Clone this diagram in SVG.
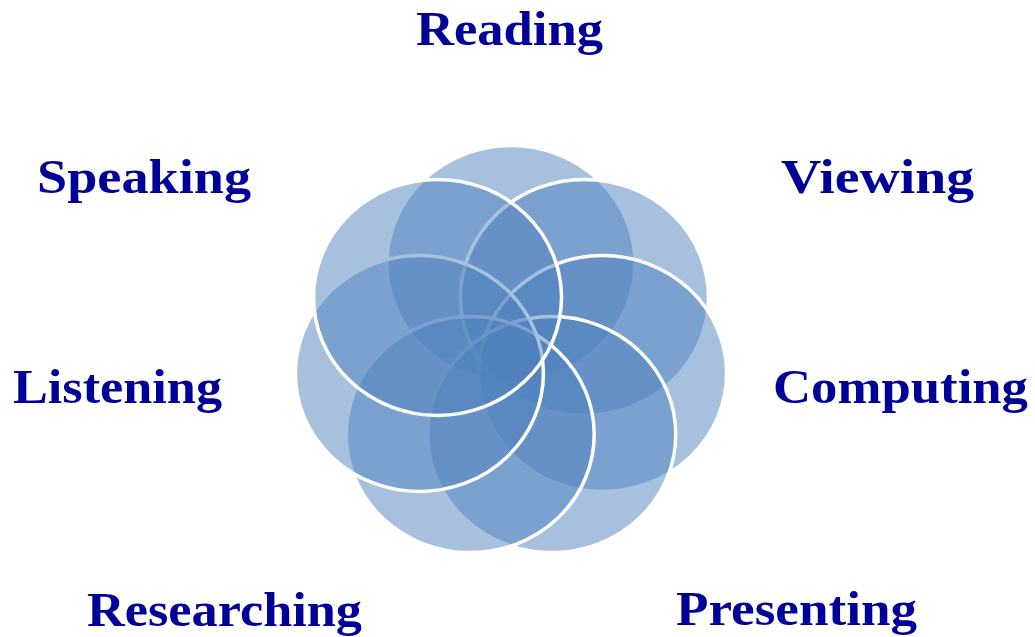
<svg xmlns="http://www.w3.org/2000/svg" width="1035" height="637" viewBox="0 0 1035 637">
<style>
.c{fill:#4F81BD;fill-opacity:0.5;stroke:#FFFFFF;stroke-width:3.5}
.t{font-family:"Liberation Serif","Times New Roman",serif;font-weight:bold;font-size:48px;fill:#000099}
</style>
<rect width="1035" height="637" fill="#FFFFFF"/>
<g id="reading"><ellipse class="c" cx="511" cy="263.5" rx="124" ry="118"/><text class="t" x="416" y="45" textLength="187" lengthAdjust="spacingAndGlyphs">Reading</text></g>
<g id="viewing"><ellipse class="c" cx="584.5" cy="297.4" rx="124" ry="118"/><text class="t" x="781" y="193" textLength="193" lengthAdjust="spacingAndGlyphs">Viewing</text></g>
<g id="computing"><ellipse class="c" cx="602.6" cy="373.5" rx="124" ry="118"/><text class="t" x="773" y="403" textLength="255" lengthAdjust="spacingAndGlyphs">Computing</text></g>
<g id="presenting"><ellipse class="c" cx="551.8" cy="434.6" rx="124" ry="118"/><text class="t" x="676" y="625" textLength="241" lengthAdjust="spacingAndGlyphs">Presenting</text></g>
<g id="researching"><ellipse class="c" cx="470.2" cy="434.6" rx="124" ry="118"/><text class="t" x="87" y="626" textLength="275" lengthAdjust="spacingAndGlyphs">Researching</text></g>
<g id="listening"><ellipse class="c" cx="419.4" cy="373.5" rx="124" ry="118"/><text class="t" x="13" y="403" textLength="209" lengthAdjust="spacingAndGlyphs">Listening</text></g>
<g id="speaking"><ellipse class="c" cx="437.5" cy="297.4" rx="124" ry="118"/><text class="t" x="37" y="193" textLength="214" lengthAdjust="spacingAndGlyphs">Speaking</text></g>
<g id="connectors"></g>
</svg>
